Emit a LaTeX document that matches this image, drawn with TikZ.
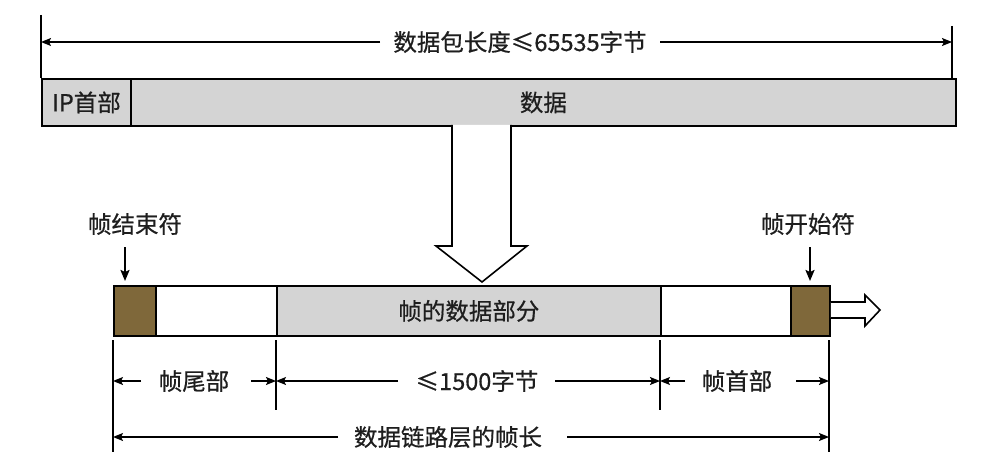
\documentclass[tikz,border=0pt]{standalone}
\usepackage{fontspec}
\setmainfont{Noto Sans CJK SC}[FakeBold=0.6]
\usetikzlibrary{arrows.meta}
\definecolor{cellgray}{RGB}{212,212,212}
\definecolor{framebrown}{RGB}{127,104,58}
\definecolor{txt}{RGB}{30,30,30}
\begin{document}
\begin{tikzpicture}[x=1pt,y=-1pt,
  cell/.style={draw=black, line width=1.8pt, inner sep=0pt, anchor=north west, text=txt, font=\fontsize{23.5}{25}\selectfont},
  lbl/.style={inner sep=0pt, text=txt, font=\fontsize{23.5}{25}\selectfont},
  dimline/.style={line width=1.3pt, -{Stealth[length=10pt,width=8pt,inset=2pt]}},
  tickline/.style={line width=1.3pt},
  ptr/.style={line width=2pt, -{Stealth[length=11pt,width=9pt,inset=2pt]}},
  hollow/.style={draw=black, fill=white, line width=1.6pt, line join=miter}
]
\useasboundingbox (0,0) rectangle (994,476);

% ---------- top packet ----------
\node[cell, fill=cellgray, minimum width=89pt, minimum height=47pt] (ip) at (41,78) {IP首部};
\node[cell, fill=cellgray, minimum width=825pt, minimum height=47pt] (data) at (130,78) {数据};

% top dimension
\coordinate (tTL) at (41,15);
\coordinate (tTR) at (952,26);
\coordinate (tBR) at (952,78);
\coordinate (tAL) at (41,42);
\coordinate (tAR) at (952,42);
\coordinate (tSL) at (380,42);
\coordinate (tSR) at (660,42);
\draw[tickline] (tTL) -- (ip.north west);
\draw[tickline] (tTR) -- (tBR);
\node[lbl] (toplbl) at (520,42) {数据包长度≤65535字节};
\draw[dimline] (tSL) -- (tAL);
\draw[dimline] (tSR) -- (tAR);

% big hollow down arrow
\draw[hollow] (452,125) -- (452,246) -- (436,246) -- (482,282) -- (527,246) -- (511,246) -- (511,125);

% ---------- frame ----------
\node[cell, fill=framebrown, minimum width=42pt, minimum height=50pt] (fend) at (113,285) {};
\node[cell, fill=white, minimum width=121pt, minimum height=50pt] (ftail) at (155,285) {};
\node[cell, fill=cellgray, minimum width=384pt, minimum height=50pt] (fdata) at (276,285) {帧的数据部分};
\node[cell, fill=white, minimum width=130pt, minimum height=50pt] (fhead) at (660,285) {};
\node[cell, fill=framebrown, minimum width=39pt, minimum height=50pt] (fstart) at (790,285) {};

% right hollow arrow
\draw[hollow] (fstart.east |- 0,302) -- (865,302) -- (865,295) -- (880,310) -- (865,326) -- (865,318) -- (fstart.east |- 0,318);

% pointer labels
\node[lbl] (endlbl) at (135,224) {帧结束符};
\node[lbl] (startlbl) at (808,224) {帧开始符};
\coordinate (pe1) at (125,247);
\coordinate (pe2) at (125,281);
\coordinate (ps1) at (810,247);
\coordinate (ps2) at (810,281);
\draw[ptr] (pe1) -- (pe2);
\draw[ptr] (ps1) -- (ps2);

% ticks below frame
\coordinate (k1a) at (113,340); \coordinate (k1b) at (113,452);
\coordinate (k2a) at (276,340); \coordinate (k2b) at (276,410);
\coordinate (k3a) at (660,340); \coordinate (k3b) at (660,410);
\coordinate (k4a) at (829,340); \coordinate (k4b) at (829,452);
\draw[tickline] (k1a) -- (k1b);
\draw[tickline] (k2a) -- (k2b);
\draw[tickline] (k3a) -- (k3b);
\draw[tickline] (k4a) -- (k4b);

% row 1 dimensions
\node[lbl] (taillbl) at (194,381) {帧尾部};
\node[lbl] (midlbl) at (477,381) {≤1500字节};
\node[lbl] (headlbl) at (737,381) {帧首部};
\coordinate (r1a) at (113,381);
\coordinate (r1b) at (276,381);
\coordinate (r1c) at (660,381);
\coordinate (r1d) at (829,381);
\coordinate (s1) at (141,381);
\coordinate (s2) at (251,381);
\coordinate (s3) at (398,381);
\coordinate (s4) at (555,381);
\coordinate (s5) at (685,381);
\coordinate (s6) at (796,381);
\draw[dimline] (s1) -- (r1a);
\draw[dimline] (s2) -- (r1b);
\draw[dimline] (s3) -- (r1b);
\draw[dimline] (s4) -- (r1c);
\draw[dimline] (s5) -- (r1c);
\draw[dimline] (s6) -- (r1d);

% row 2 dimension
\node[lbl] (lenlbl) at (448,437) {数据链路层的帧长};
\coordinate (r2a) at (113,437);
\coordinate (r2b) at (829,437);
\coordinate (s7) at (338,437);
\coordinate (s8) at (567,437);
\draw[dimline] (s7) -- (r2a);
\draw[dimline] (s8) -- (r2b);
\end{tikzpicture}
\end{document}
